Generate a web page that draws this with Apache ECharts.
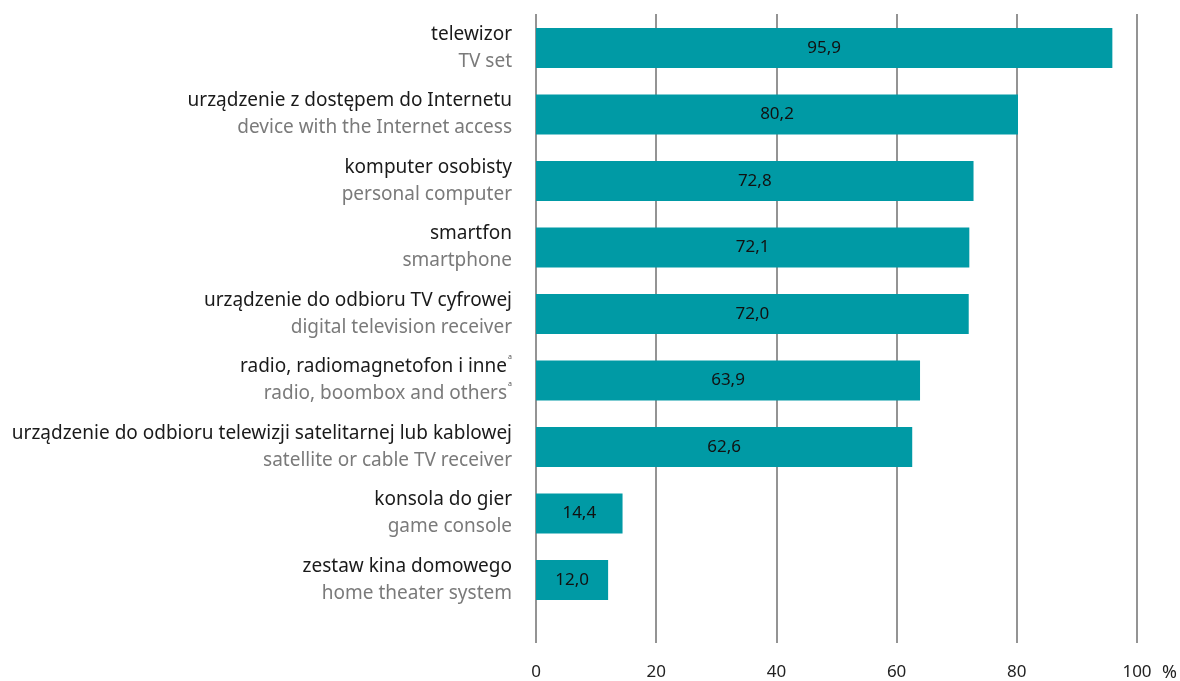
<!DOCTYPE html>
<html><head><meta charset="utf-8">
<script src="https://cdn.jsdelivr.net/npm/echarts@6/dist/echarts.min.js"></script>
<style>html,body{margin:0;padding:0;background:#fff}#c{width:1180px;height:681px}</style>
</head><body><div id="c"></div>
<script>
const categoriesPL = ['telewizor','urządzenie z dostępem do Internetu','komputer osobisty','smartfon','urządzenie do odbioru TV cyfrowej','radio, radiomagnetofon i inne','urządzenie do odbioru telewizji satelitarnej lub kablowej','konsola do gier','zestaw kina domowego'];
const categoriesEN = ['TV set','device with the Internet access','personal computer','smartphone','digital television receiver','radio, boombox and others','satellite or cable TV receiver','game console','home theater system'];
const footnoted = [false,false,false,false,false,true,false,false,false];
const values = [95.9, 80.2, 72.8, 72.1, 72.0, 63.9, 62.6, 14.4, 12.0];
const xTicks = [0, 20, 40, 60, 80, 100];

const FONT = 'Noto Sans';
const chart = echarts.init(document.getElementById('c'));
const cats = categoriesPL.map((p, i) => i);
chart.setOption({
  animation: false,
  grid: [
    {left: 536, right: 43, top: 14, bottom: 36},
    {left: 536, right: 43, top: 14.75, height: 598.5}
  ],
  xAxis: [
    {gridIndex: 0, type: 'value', min: xTicks[0], max: xTicks[xTicks.length-1], interval: 20,
     axisLine: {show: false}, axisTick: {show: false},
     splitLine: {show: true, lineStyle: {color: '#707070', width: 1.5}},
     axisLabel: {margin: 21, color: '#222', fontFamily: FONT, fontSize: 17}},
    {gridIndex: 1, type: 'value', min: 0, max: 100, show: false}
  ],
  yAxis: [
    {gridIndex: 0, type: 'value', show: false},
    {gridIndex: 1, type: 'category', inverse: true, data: cats,
     axisLine: {show: false}, axisTick: {show: false},
     axisLabel: {margin: 24, align: 'right', fontFamily: FONT,
       formatter: (v) => {
         const i = +v;
         const sup = footnoted[i] ? '{s|a}' : '';
         return '{p|' + categoriesPL[i] + '}' + sup + '\n{e|' + categoriesEN[i] + '}' + sup;
       },
       rich: {
         p: {color: '#1a1a1a', fontSize: 19, fontFamily: FONT, lineHeight: 27},
         e: {color: '#7a7a7a', fontSize: 19, fontFamily: FONT, lineHeight: 27},
         s: {color: '#555', fontSize: 7, fontFamily: FONT, verticalAlign: 'top', lineHeight: 27, padding: [0,0,6,1]}
       }}}
  ],
  series: [{
    type: 'bar', xAxisIndex: 1, yAxisIndex: 1, data: values, barWidth: 40,
    itemStyle: {color: '#009aa5'},
    label: {show: true, position: 'inside', color: '#111', fontFamily: FONT, fontSize: 17,
      formatter: (p) => p.value.toFixed(1).replace('.', ',')}
  }],
  graphic: [{type: 'text', left: 1162, top: 664, style: {text: '%', fill: '#222', font: '18px "Noto Sans"'}}]
});
</script></body></html>
